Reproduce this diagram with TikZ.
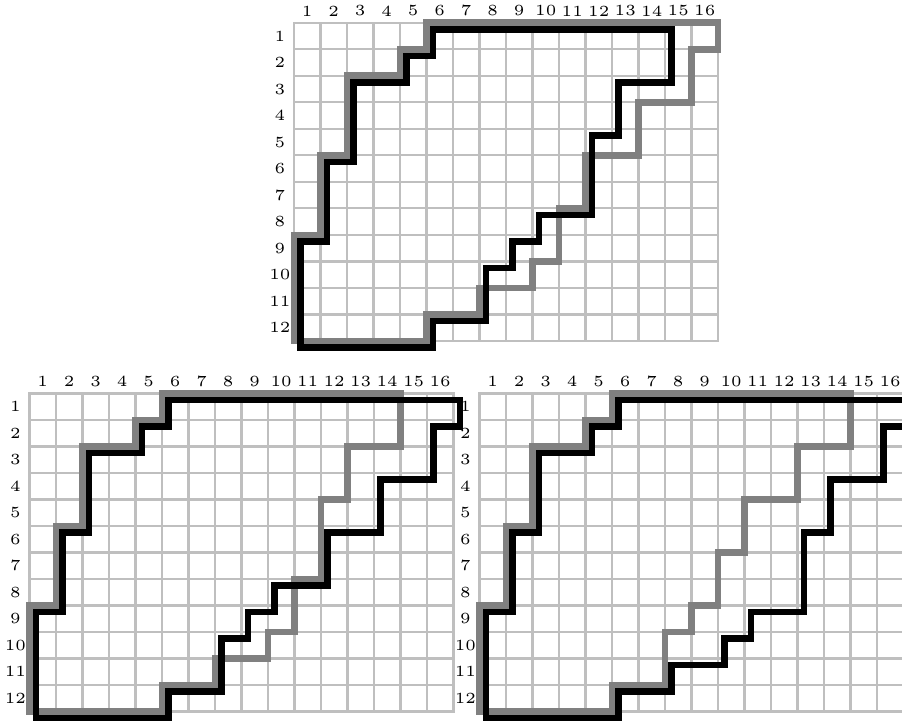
\documentclass[tikz,border=0pt]{standalone}
\tikzset{
  gridline/.style={draw=lightgray, line width=2.4pt, line cap=rect},
  graypath/.style={draw=gray, line width=6.6pt, line join=miter},
  blackpath/.style={draw=black, line width=6.6pt, line join=miter},
  lbl/.style={inner sep=0pt, outer sep=0pt, anchor=center},
  gridscope/.style={x=26.5pt, y=-26.5pt},
}
\newcommand\lblfont[1]{\scalebox{3.1}{\fontsize{5}{6}\selectfont #1}}
\newcommand\gridwithlabels[1]{%
  \foreach \i in {0,...,16} \draw[gridline] (\i,0) -- (\i,12);
  \foreach \j in {0,...,12} \draw[gridline] (0,\j) -- (16,\j);
  \foreach \i in {1,...,16} \node[lbl] (#1c\i) at (\i-0.5,-0.45) {\lblfont{\i}};
  \foreach \j in {1,...,12} \node[lbl] (#1r\j) at (-0.53,\j-0.5) {\lblfont{\j}};
}
\begin{document}
\begin{tikzpicture}
\useasboundingbox (0,0) rectangle (902pt,-722pt);
\clip (0,0) rectangle (902pt,-722pt);
% top grid
\begin{scope}[shift={(294pt,-22.8pt)}, gridscope]
  \gridwithlabels{t}
  \draw[graypath] (0,12) -- (0,8) -- (1,8) -- (1,5) -- (2,5) -- (2,2) -- (4,2) -- (4,1) -- (5,1) -- (5,0)
    -- (16,0) -- (16,1) -- (15,1) -- (15,3) -- (13,3) -- (13,5) -- (11,5) -- (11,7) -- (10,7) -- (10,9)
    -- (9,9) -- (9,10) -- (7,10) -- (7,11) -- (5,11) -- (5,12) -- cycle;
  \draw[blackpath, shift={(0.25,0.25)}] (0,12) -- (0,8) -- (1,8) -- (1,5) -- (2,5) -- (2,2) -- (4,2) -- (4,1) -- (5,1) -- (5,0)
    -- (14,0) -- (14,2) -- (12,2) -- (12,4) -- (11,4) -- (11,7) -- (9,7) -- (9,8) -- (8,8) -- (8,9)
    -- (7,9) -- (7,11) -- (5,11) -- (5,12) -- cycle;
\end{scope}
% bottom-left grid
\begin{scope}[shift={(29.4pt,-393.4pt)}, gridscope]
  \gridwithlabels{l}
  \draw[graypath] (0,12) -- (0,8) -- (1,8) -- (1,5) -- (2,5) -- (2,2) -- (4,2) -- (4,1) -- (5,1) -- (5,0)
    -- (14,0) -- (14,2) -- (12,2) -- (12,4) -- (11,4) -- (11,7) -- (10,7) -- (10,9) -- (9,9) -- (9,10)
    -- (7,10) -- (7,11) -- (5,11) -- (5,12) -- cycle;
  \draw[blackpath, shift={(0.25,0.25)}] (0,12) -- (0,8) -- (1,8) -- (1,5) -- (2,5) -- (2,2) -- (4,2) -- (4,1) -- (5,1) -- (5,0)
    -- (16,0) -- (16,1) -- (15,1) -- (15,3) -- (13,3) -- (13,5) -- (11,5) -- (11,7) -- (9,7) -- (9,8)
    -- (8,8) -- (8,9) -- (7,9) -- (7,11) -- (5,11) -- (5,12) -- cycle;
\end{scope}
% bottom-right grid
\begin{scope}[shift={(479.4pt,-393.4pt)}, gridscope]
  \gridwithlabels{r}
  \draw[graypath] (0,12) -- (0,8) -- (1,8) -- (1,5) -- (2,5) -- (2,2) -- (4,2) -- (4,1) -- (5,1) -- (5,0)
    -- (14,0) -- (14,2) -- (12,2) -- (12,4) -- (10,4) -- (10,6) -- (9,6) -- (9,8) -- (8,8) -- (8,9)
    -- (7,9) -- (7,11) -- (5,11) -- (5,12) -- cycle;
  \draw[blackpath, shift={(0.25,0.25)}] (0,12) -- (0,8) -- (1,8) -- (1,5) -- (2,5) -- (2,2) -- (4,2) -- (4,1) -- (5,1) -- (5,0)
    -- (16,0) -- (16,1) -- (15,1) -- (15,3) -- (13,3) -- (13,5) -- (12,5) -- (12,8) -- (10,8) -- (10,9)
    -- (9,9) -- (9,10) -- (7,10) -- (7,11) -- (5,11) -- (5,12) -- cycle;
\end{scope}
\end{tikzpicture}
\end{document}
